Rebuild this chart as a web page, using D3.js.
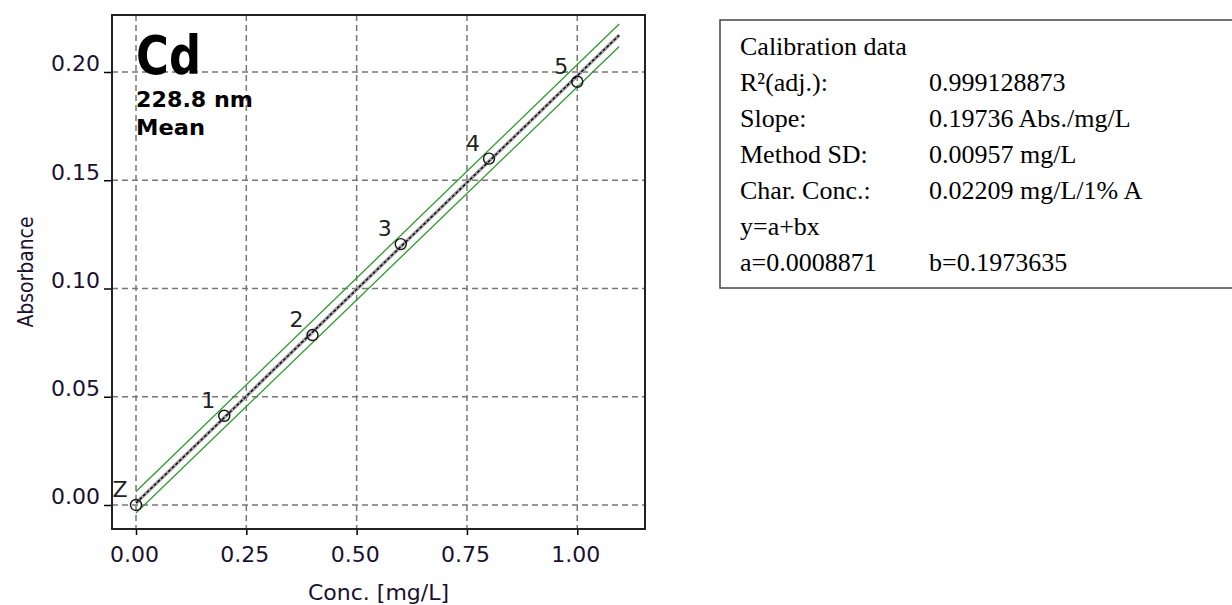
<!DOCTYPE html>
<html>
<head>
<meta charset="utf-8">
<script src="https://cdn.jsdelivr.net/npm/d3@7"></script>
<style>
  body { margin: 0; background: #fff; }
  svg { display: block; }
</style>
</head>
<body>
<div id="chart"></div>
<script>
// calibration standards (Z = zero standard)
const stdLabels = ["Z", "1", "2", "3", "4", "5"];
const conc = [0, 0.2, 0.4, 0.6, 0.8, 1.0];
const absorbance = [0.0000, 0.0412, 0.0785, 0.1205, 0.1600, 0.1955];

// regression line and its band, end points
const fitX = [0, 1.095];
const fitY = [0.0009, 0.2170];
const upperY = [0.0062, 0.2222];
const lowerY = [-0.0037, 0.2118];

const xTicks = [0, 0.25, 0.5, 0.75, 1.0];
const yTicks = [0, 0.05, 0.10, 0.15, 0.20];

// calibration table
const calibLabels = ["Calibration data", "R²(adj.):", "Slope:", "Method SD:", "Char. Conc.:", "y=a+bx", "a=0.0008871"];
const calibValues = ["", "0.999128873", "0.19736 Abs./mg/L", "0.00957 mg/L", "0.02209 mg/L/1%\u2009A", "", "b=0.1973635"];

const W = 1232, H = 605;
const frame = { left: 112, top: 15, right: 645, bottom: 529 };

const svg = d3.select("#chart").append("svg")
    .attr("width", W)
    .attr("height", H);

const x = d3.scaleLinear()
    .domain([-0.0544, 1.1535])
    .range([frame.left, frame.right]);

const y = d3.scaleLinear()
    .domain([-0.01109, 0.22633])
    .range([frame.bottom, frame.top]);

const axisFont = "'DejaVu Sans', Verdana, sans-serif";

// grid lines
svg.append("g").selectAll("line")
    .data(xTicks)
    .enter().append("line")
    .attr("x1", d => x(d)).attr("x2", d => x(d))
    .attr("y1", frame.top).attr("y2", frame.bottom)
    .attr("stroke", "#777")
    .attr("stroke-width", 1.5)
    .attr("stroke-dasharray", "6,4");

svg.append("g").selectAll("line")
    .data(yTicks)
    .enter().append("line")
    .attr("y1", d => y(d)).attr("y2", d => y(d))
    .attr("x1", frame.left).attr("x2", frame.right)
    .attr("stroke", "#777")
    .attr("stroke-width", 1.5)
    .attr("stroke-dasharray", "6,4");

// axes
const yAxis = svg.append("g")
    .attr("transform", `translate(${frame.left},0)`)
    .call(d3.axisLeft(y).tickValues(yTicks).tickSize(8).tickPadding(4).tickFormat(d3.format(".2f")));
yAxis.select(".domain").remove();
yAxis.selectAll("line").attr("stroke", "#000").attr("stroke-width", 1.5);
yAxis.selectAll("text")
    .attr("dy", "-0.05em")
    .style("font-family", axisFont)
    .style("font-size", "22px")
    .attr("fill", "#1a1030");

const xAxis = svg.append("g")
    .attr("transform", `translate(0,${frame.bottom})`)
    .call(d3.axisBottom(x).tickValues(xTicks).tickSize(6).tickFormat(d3.format(".2f")));
xAxis.select(".domain").remove();
xAxis.selectAll("line").attr("stroke", "#000").attr("stroke-width", 1.5);
xAxis.selectAll("text")
    .attr("y", 33)
    .attr("dy", "0")
    .attr("dx", "-2")
    .style("font-family", axisFont)
    .style("font-size", "22px")
    .attr("fill", "#1a1030");

// plot frame
svg.append("rect")
    .attr("x", frame.left).attr("y", frame.top)
    .attr("width", frame.right - frame.left)
    .attr("height", frame.bottom - frame.top)
    .attr("fill", "none")
    .attr("stroke", "#222")
    .attr("stroke-width", 2);

// axis titles
svg.append("text")
    .attr("x", (frame.left + frame.right) / 2)
    .attr("y", 600)
    .attr("text-anchor", "middle")
    .style("font-family", axisFont)
    .style("font-size", "22px")
    .attr("fill", "#1a1030")
    .text("Conc. [mg/L]");

svg.append("text")
    .attr("transform", `translate(33,${(frame.top + frame.bottom) / 2}) rotate(-90)`)
    .attr("text-anchor", "middle")
    .attr("textLength", 111)
    .attr("lengthAdjust", "spacingAndGlyphs")
    .style("font-family", axisFont)
    .style("font-size", "21px")
    .attr("fill", "#1a1030")
    .text("Absorbance");

// element / wavelength caption
svg.append("text")
    .attr("x", 136).attr("y", 74)
    .attr("textLength", 65)
    .attr("lengthAdjust", "spacingAndGlyphs")
    .style("font-family", axisFont)
    .style("font-weight", "bold")
    .style("font-size", "53px")
    .text("Cd");
svg.append("text")
    .attr("x", 136).attr("y", 107)
    .attr("textLength", 117)
    .attr("lengthAdjust", "spacingAndGlyphs")
    .style("font-family", axisFont)
    .style("font-weight", "bold")
    .style("font-size", "21px")
    .text("228.8 nm");
svg.append("text")
    .attr("x", 136).attr("y", 135)
    .attr("textLength", 69)
    .attr("lengthAdjust", "spacingAndGlyphs")
    .style("font-family", axisFont)
    .style("font-weight", "bold")
    .style("font-size", "21px")
    .text("Mean");

// band and regression line
const line = d3.line()
    .x(d => x(d[0]))
    .y(d => y(d[1]));

[upperY, lowerY].forEach(band => {
    svg.append("path")
        .datum(d3.zip(fitX, band))
        .attr("fill", "none")
        .attr("stroke", "#2a9a2a")
        .attr("stroke-width", 1.3)
        .attr("d", line);
});

svg.append("path")
    .datum(d3.zip(fitX, fitY))
    .attr("fill", "none")
    .attr("stroke", "#a0a0a0")
    .attr("stroke-width", 3.5)
    .attr("d", line);
svg.append("path")
    .datum(d3.zip(fitX, fitY))
    .attr("fill", "none")
    .attr("stroke", "#000")
    .attr("stroke-width", 1.3)
    .attr("stroke-dasharray", "3,2")
    .attr("d", line);

// standards
const points = d3.zip(conc, absorbance, stdLabels);

svg.append("g").selectAll("circle")
    .data(points)
    .enter().append("circle")
    .attr("cx", d => x(d[0]))
    .attr("cy", d => y(d[1]))
    .attr("r", 5.5)
    .attr("fill", "none")
    .attr("stroke", "#111")
    .attr("stroke-width", 1.4);

svg.append("g").selectAll("text")
    .data(points)
    .enter().append("text")
    .attr("x", d => x(d[0]) - 16)
    .attr("y", d => y(d[1]) - 8)
    .attr("text-anchor", "middle")
    .style("font-family", axisFont)
    .style("font-size", "22px")
    .attr("fill", "#222")
    .text(d => d[2]);

// calibration data box
const box = svg.append("g");
box.append("rect")
    .attr("x", 720).attr("y", 20)
    .attr("width", 530).attr("height", 268)
    .attr("fill", "#fff")
    .attr("stroke", "#444")
    .attr("stroke-width", 1.5);

const rowY = d3.scaleLinear().domain([0, 6]).range([55, 271]);

box.selectAll(".lab")
    .data(calibLabels)
    .enter().append("text")
    .attr("class", "lab")
    .attr("x", 740)
    .attr("y", (d, i) => rowY(i))
    .style("font-family", "'Liberation Serif', 'Times New Roman', serif")
    .style("font-size", "26px")
    .text(d => d);

box.selectAll(".val")
    .data(calibValues)
    .enter().append("text")
    .attr("class", "val")
    .attr("x", 929)
    .attr("y", (d, i) => rowY(i))
    .style("font-family", "'Liberation Serif', 'Times New Roman', serif")
    .style("font-size", "26px")
    .text(d => d);
</script>
</body>
</html>
